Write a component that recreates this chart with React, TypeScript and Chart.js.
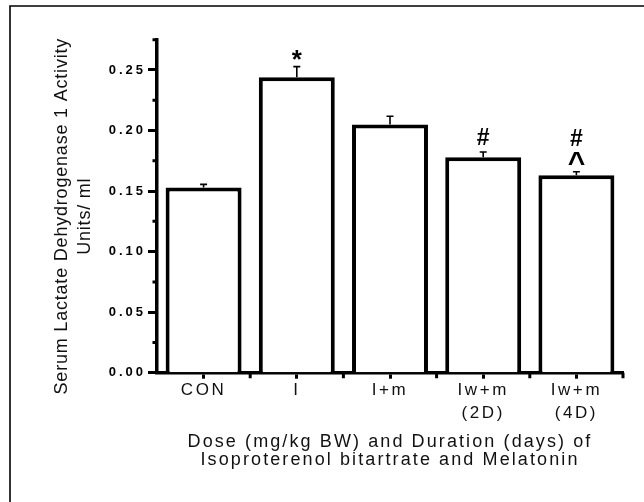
import React, { useEffect, useRef } from 'react';
import { Chart, registerables } from 'chart.js';

Chart.register(...registerables);

// ---- data ----
const categories: string[][] = [['CON'], ['I'], ['I+m'], ['Iw+m', '(2D)'], ['Iw+m', '(4D)']];
const meanValues: number[] = [0.153, 0.244, 0.205, 0.178, 0.163];
const errorValues: number[] = [0.0025, 0.0088, 0.0068, 0.0043, 0.003];
// significance markers, listed top-to-bottom
const markers: string[][] = [[], ['*'], [], ['#'], ['#', '^']];
const yTitleLines: string[] = ['Serum Lactate Dehydrogenase 1 Activity', 'Units/ ml'];
const xTitleLines: string[] = ['Dose (mg/kg BW) and Duration (days) of', 'Isoproterenol bitartrate and Melatonin'];
const yMin = 0;
const yMax = 0.275;
const yMajorStep = 0.05;
const yMinorTicks: number[] = [0.025, 0.075, 0.125, 0.175, 0.225, 0.275];

const FONT = '"Liberation Sans", Arial, sans-serif';

const markerFont: Record<string, string> = {
  '*': `bold 26px ${FONT}`,
  '#': `bold 23px ${FONT}`,
  '^': `bold 30px ${FONT}`,
};

const decorPlugin = {
  id: 'decor',
  afterUpdate(chart: any) {
    const spacing: Record<string, string> = { x: '2.6px', y: '3px' };
    Object.keys(spacing).forEach((id) => {
      const s = chart.scales[id];
      if (s && !s.__patched) {
        const orig = s.drawLabels;
        s.drawLabels = function (area: any) {
          const ctx = this.ctx;
          ctx.save();
          ctx.letterSpacing = spacing[id];
          orig.call(this, area);
          ctx.restore();
        };
        s.__patched = true;
      }
    });
  },
  beforeDraw(chart: any) {
    const ctx = chart.ctx;
    ctx.save();
    ctx.strokeStyle = '#000';
    ctx.lineWidth = 1.6;
    ctx.beginPath();
    ctx.moveTo(10, 502);
    ctx.lineTo(10, 6);
    ctx.lineTo(644, 6);
    ctx.stroke();
    ctx.restore();
  },
  afterDatasetsDraw(chart: any) {
    const ctx = chart.ctx;
    const xs = chart.scales.x;
    const ys = chart.scales.y;
    const meta = chart.getDatasetMeta(0);
    ctx.save();
    ctx.strokeStyle = '#000';
    meta.data.forEach((bar: any, i: number) => {
      const px = bar.x;
      const pTop = ys.getPixelForValue(meanValues[i]);
      const pErr = ys.getPixelForValue(meanValues[i] + errorValues[i]);
      ctx.lineWidth = 1.6;
      ctx.beginPath();
      ctx.moveTo(px, pTop);
      ctx.lineTo(px, pErr);
      ctx.moveTo(px - 3.5, pErr);
      ctx.lineTo(px + 3.5, pErr);
      ctx.stroke();
      // markers, bottom-up
      let bottom = pErr - 7;
      const list = markers[i];
      for (let k = list.length - 1; k >= 0; k--) {
        const m = list[k];
        ctx.font = markerFont[m] || `bold 20px ${FONT}`;
        ctx.fillStyle = '#000';
        ctx.textAlign = 'center';
        ctx.textBaseline = 'alphabetic';
        const mt = ctx.measureText(m);
        const base = bottom - mt.actualBoundingBoxDescent;
        ctx.fillText(m, px, base);
        bottom = base - mt.actualBoundingBoxAscent - 6;
      }
    });
    // minor ticks on y
    ctx.lineWidth = 3;
    ctx.beginPath();
    yMinorTicks.forEach((v) => {
      const py = ys.getPixelForValue(v);
      ctx.moveTo(ys.right - 4.5, py);
      ctx.lineTo(ys.right, py);
    });
    // boundary ticks on x
    for (let i = 1; i <= categories.length; i++) {
      const px = xs.getPixelForValue(i - 0.5);
      ctx.moveTo(px, xs.top);
      ctx.lineTo(px, xs.top + 5.5);
    }
    ctx.stroke();
    ctx.restore();
  },
  afterDraw(chart: any) {
    const ctx = chart.ctx;
    const area = chart.chartArea;
    ctx.save();
    ctx.fillStyle = '#111';
    ctx.font = `18px ${FONT}`;
    ctx.textAlign = 'center';
    ctx.textBaseline = 'alphabetic';
    ctx.letterSpacing = '0.8px';
    // y title
    const cy = (area.top + area.bottom) / 2 + 10;
    const yBases = [67, 90];
    yTitleLines.forEach((t, k) => {
      ctx.save();
      ctx.translate(yBases[k], cy);
      ctx.rotate(-Math.PI / 2);
      ctx.fillText(t, 0, 0);
      ctx.restore();
    });
    // x title
    ctx.letterSpacing = '2.1px';
    const cx = (area.left + area.right) / 2;
    const xBases = [447, 465];
    xTitleLines.forEach((t, k) => {
      ctx.fillText(t, cx, xBases[k]);
    });
    ctx.restore();
  },
};

export default function App() {
  const ref = useRef<HTMLCanvasElement>(null);
  useEffect(() => {
    if (!ref.current) return;
    const chart = new Chart(ref.current, {
      type: 'bar',
      data: {
        labels: categories,
        datasets: [
          {
            data: meanValues,
            backgroundColor: '#ffffff',
            borderColor: '#000000',
            borderWidth: 4,
            barPercentage: 0.815,
            categoryPercentage: 1,
          },
        ],
      },
      options: {
        animation: false,
        responsive: false,
        devicePixelRatio: 1,
        layout: { padding: { top: 39.7, right: 21, bottom: 0, left: 0 } },
        plugins: { legend: { display: false }, tooltip: { enabled: false }, title: { display: false } },
        scales: {
          x: {
            offset: true,
            ticks: {
              font: { family: FONT, size: 17, lineHeight: 1.3 },
              color: '#111',
              padding: 1,
              maxRotation: 0,
              autoSkip: false,
            },
            grid: { offset: false, drawOnChartArea: false, tickLength: 6, tickWidth: 3, tickColor: '#000' },
            border: { color: '#000', width: 3.5 },
            afterFit: (s: any) => {
              s.height = 502 - 372.7;
            },
          },
          y: {
            min: yMin,
            max: yMax,
            ticks: {
              stepSize: yMajorStep,
              includeBounds: false,
              callback: (v: any) => Number(v).toFixed(2),
              font: { family: FONT, size: 13, weight: 'bold' },
              color: '#000',
              padding: 2,
            },
            grid: { drawOnChartArea: false, tickLength: 9, tickWidth: 3, tickColor: '#000' },
            border: { color: '#000', width: 3.5 },
            afterFit: (s: any) => {
              s.width = 157;
            },
          },
        },
      },
      plugins: [decorPlugin],
    } as any);
    return () => chart.destroy();
  }, []);
  return (
    <div style={{ position: 'absolute', left: 0, top: 0, width: 644, height: 502 }}>
      <canvas ref={ref} width={644} height={502} />
    </div>
  );
}
